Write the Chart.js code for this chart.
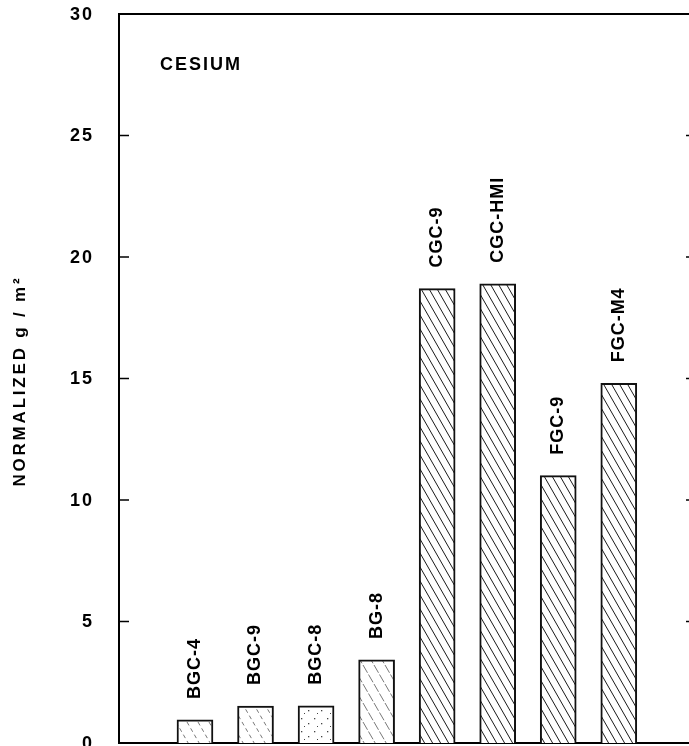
<!DOCTYPE html>
<html>
<head>
<meta charset="utf-8">
<script src="https://cdn.jsdelivr.net/npm/chart.js@4/dist/chart.umd.min.js"></script>
<style>
  body { margin: 0; background: #fff; }
  #caja { width: 689px; height: 746px; position: relative; }
</style>
</head>
<body>
<div id="caja"><canvas id="cesioChart"></canvas></div>
<script>
// Datos del gráfico
var categorias = ['BGC-4', 'BGC-9', 'BGC-8', 'BG-8', 'CGC-9', 'CGC-HMI', 'FGC-9', 'FGC-M4'];
var valores = [0.95, 1.52, 1.53, 3.42, 18.7, 18.9, 11.0, 14.8];
var tramas = ['rayaSuelta', 'rayaSuelta', 'puntos', 'rayaFina', 'densa', 'densa', 'densa', 'densa'];
var ticksY = [0, 5, 10, 15, 20, 25, 30];
var elemento = 'CESIUM';
var tituloY = 'NORMALIZED g / m\u00B2';

var fuente = '"Liberation Sans", Arial, sans-serif';

// Crear una trama de rayas diagonales
function crearTrama(tipo) {
  var c = document.createElement('canvas');
  var w = 8, h = 14;
  if (tipo === 'rayaSuelta' || tipo === 'rayaFina') { w = 11; h = 19; }
  if (tipo === 'puntos') { w = 13; h = 13; }
  c.width = w; c.height = h;
  var g = c.getContext('2d');
  g.fillStyle = '#fff';
  g.fillRect(0, 0, w, h);
  if (tipo === 'puntos') {
    g.fillStyle = '#444';
    g.fillRect(2, 3, 1.3, 1.3);
    g.fillRect(9, 8, 1.3, 1.3);
    g.fillRect(5, 11, 1, 1);
    return g.createPattern(c, 'repeat');
  }
  g.strokeStyle = tipo === 'densa' ? '#1a1a1a' : '#555';
  g.lineWidth = tipo === 'densa' ? 1 : 0.8;
  if (tipo === 'rayaSuelta') g.setLineDash([4, 3.3]);
  if (tipo === 'rayaFina') g.setLineDash([9, 2]);
  for (var k = -1; k <= 1; k++) {
    g.beginPath();
    g.moveTo(k * w, 0);
    g.lineTo(k * w + w, h);
    g.stroke();
  }
  return g.createPattern(c, 'repeat');
}

// Textos, marcas y línea superior
var decoracion = {
  id: 'decoracion',
  afterDatasetsDraw: function (chart) {
    var ctx = chart.ctx;
    var area = chart.chartArea;
    var y = chart.scales.y;
    ctx.save();
    ctx.strokeStyle = '#000';
    ctx.lineWidth = 2;
    // línea superior en 30
    var yTop = y.getPixelForValue(30);
    ctx.beginPath();
    ctx.moveTo(area.left - 1, yTop);
    ctx.lineTo(area.right, yTop);
    ctx.stroke();
    // marcas hacia dentro y números del eje
    ctx.lineWidth = 1.5;
    ctx.fillStyle = '#000';
    ctx.font = 'bold 18px ' + fuente;
    ctx.letterSpacing = '2px';
    ctx.textAlign = 'right';
    ctx.textBaseline = 'middle';
    ticksY.forEach(function (v) {
      var py = y.getPixelForValue(v);
      ctx.fillText(String(v), area.left - 25, py + 1);
      if (v === 0 || v === 30) return;
      ctx.beginPath();
      ctx.moveTo(area.left, py); ctx.lineTo(area.left + 10, py);
      ctx.moveTo(area.right - 3, py); ctx.lineTo(area.right, py);
      ctx.stroke();
    });
    // etiquetas de las barras
    ctx.letterSpacing = '1px';
    ctx.textAlign = 'left';
    chart.getDatasetMeta(0).data.forEach(function (bar, i) {
      ctx.save();
      ctx.translate(bar.x, bar.y - 21);
      ctx.rotate(-Math.PI / 2);
      ctx.fillText(categorias[i], 0, 0);
      ctx.restore();
    });
    // nombre del elemento
    ctx.letterSpacing = '2px';
    ctx.textBaseline = 'alphabetic';
    ctx.fillText(elemento, area.left + 41, 70);
    // título del eje Y
    ctx.font = 'bold 17px ' + fuente;
    ctx.letterSpacing = '2.8px';
    ctx.textAlign = 'center';
    ctx.textBaseline = 'middle';
    ctx.translate(20, (area.top + area.bottom) / 2 + 4);
    ctx.rotate(-Math.PI / 2);
    ctx.fillText(tituloY, 1.4, 0);
    ctx.restore();
  }
};

var puntos = categorias.map(function (c, i) { return { x: i + 1, y: valores[i] }; });

var config = {
  type: 'bar',
  data: {
    datasets: [{
      data: puntos,
      backgroundColor: tramas.map(crearTrama),
      borderColor: '#111',
      borderWidth: 2,
      barThickness: 36
    }]
  },
  options: {
    responsive: true,
    maintainAspectRatio: false,
    animation: false,
    layout: { padding: { top: 14, bottom: 3, left: 0, right: 0 } },
    plugins: { legend: { display: false }, tooltip: { enabled: false } },
    scales: {
      x: {
        type: 'linear',
        offset: false,
        min: -0.255,
        max: 9.16,
        ticks: { display: false },
        grid: { display: false },
        border: { display: true, color: '#000', width: 2 },
        afterFit: function (s) { s.height = 0; }
      },
      y: {
        min: 0,
        max: 30,
        ticks: { display: false },
        grid: { display: false },
        border: { display: true, color: '#000', width: 2 },
        afterFit: function (s) { s.width = 119; }
      }
    }
  },
  plugins: [decoracion]
};

var cesioCtx = document.getElementById('cesioChart').getContext('2d');
var cesioChart = new Chart(cesioCtx, config);
</script>
</body>
</html>
